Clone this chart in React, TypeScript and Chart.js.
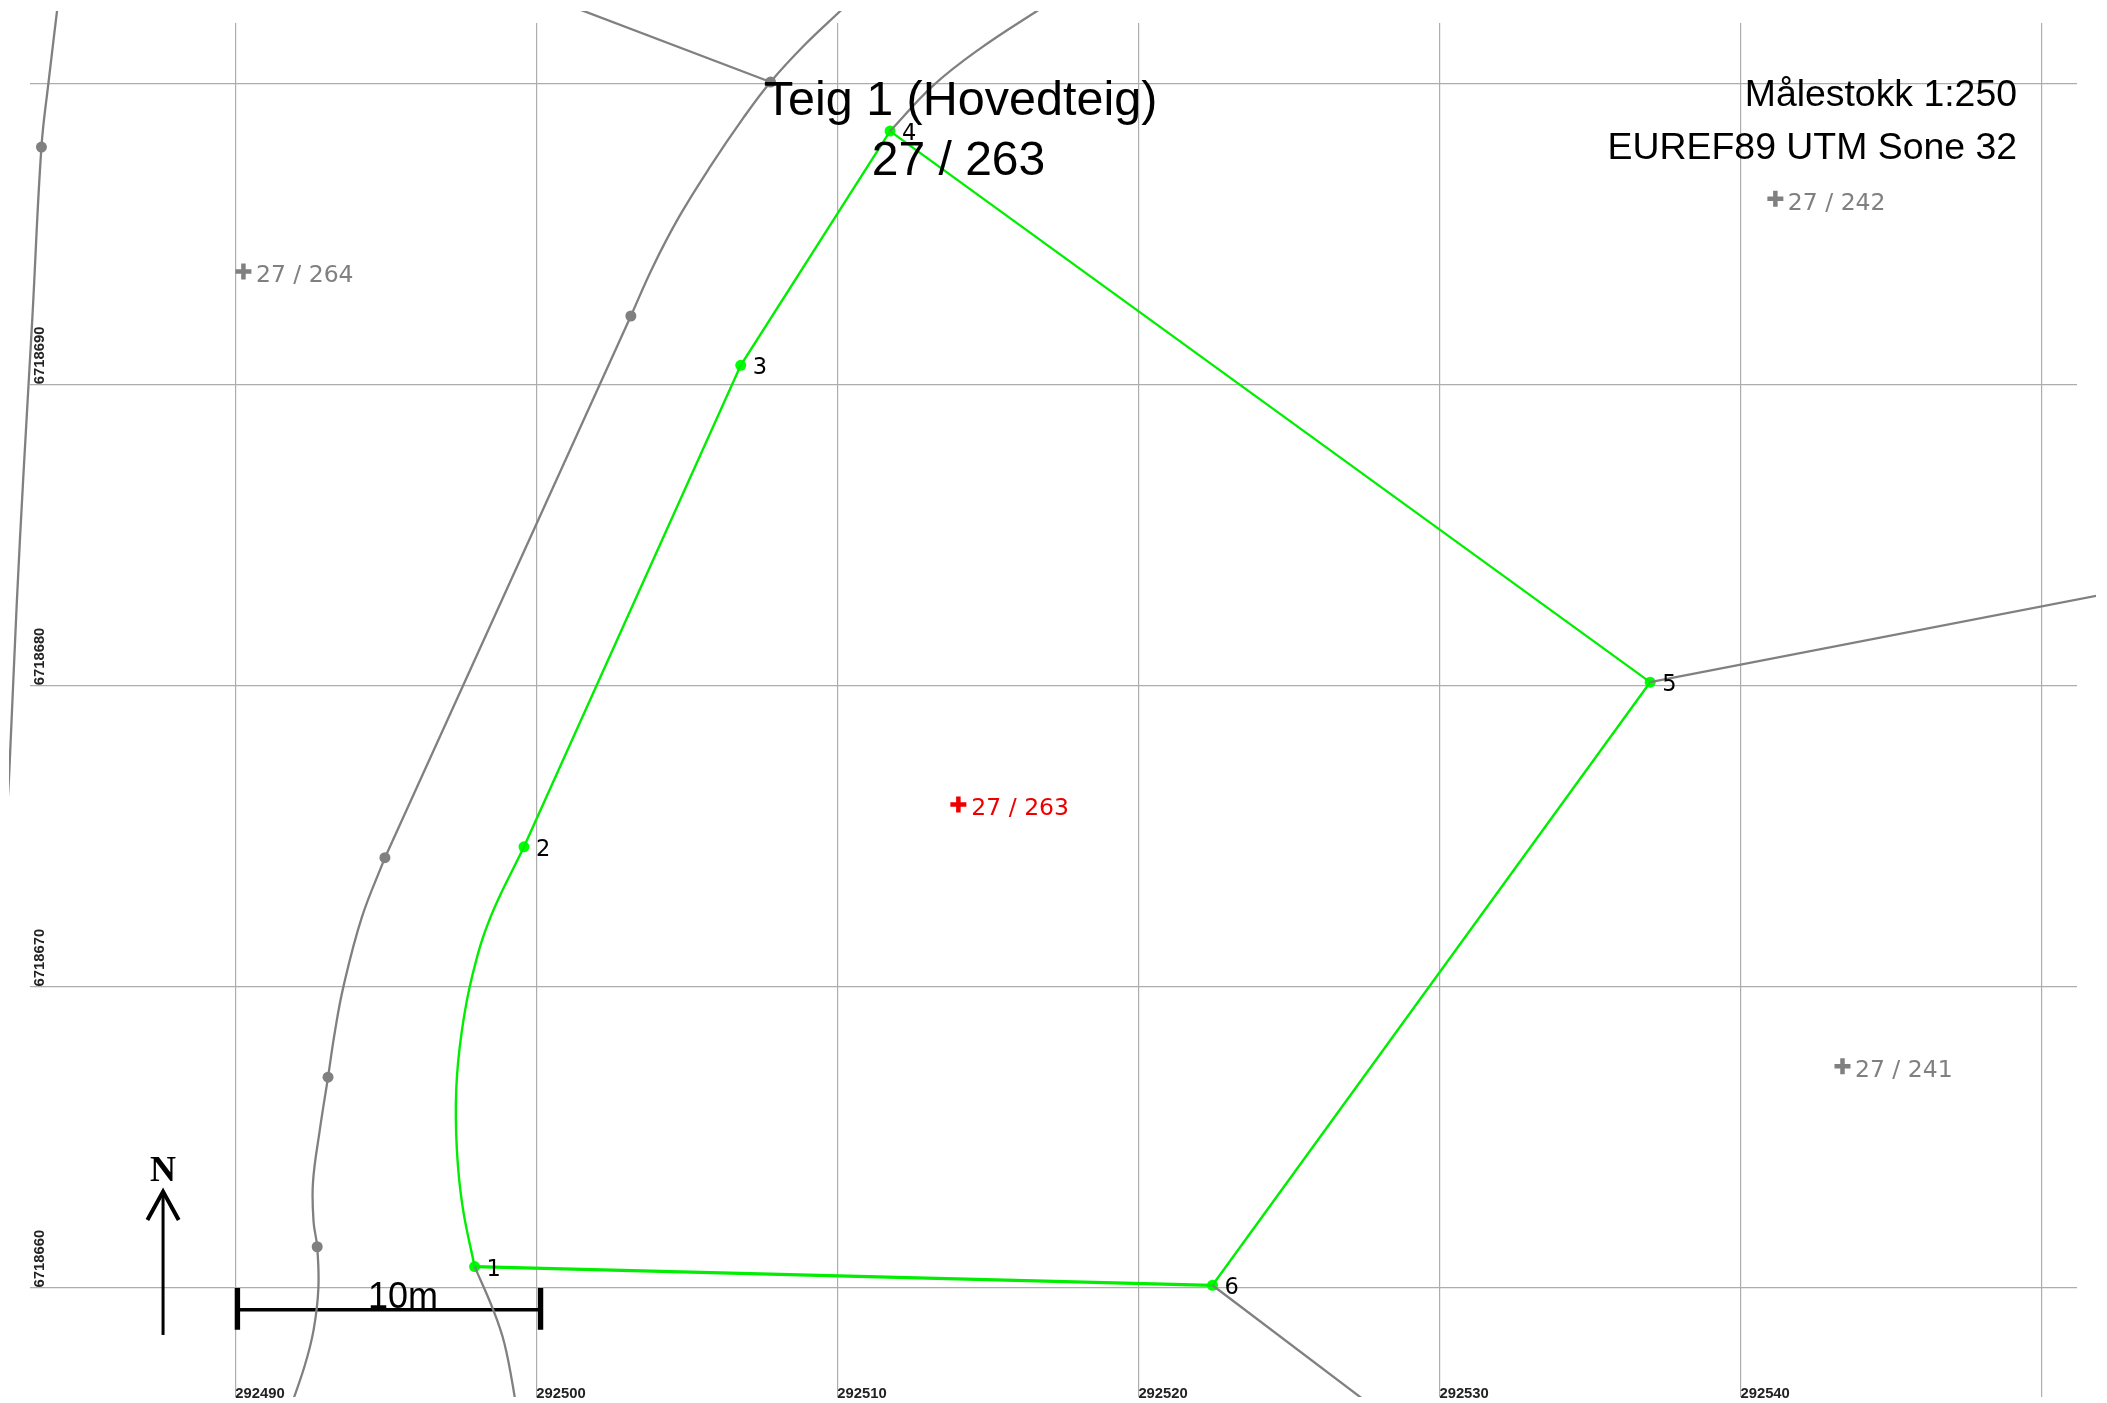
import React, { useEffect, useRef } from "react";
import { Chart, registerables } from "chart.js";

Chart.register(...registerables);

// Map grid (UTM metres)
const eastingGrid = [292490, 292500, 292510, 292520, 292530, 292540, 292550];
const northingGrid = [6718660, 6718670, 6718680, 6718690, 6718700];
const eastingLabels = ["292490", "292500", "292510", "292520", "292530", "292540"];
const northingLabels = ["6718660", "6718670", "6718680", "6718690"];

// Green parcel boundary
const boundaryStraightE = [292499.59, 292506.79, 292511.75, 292537.0, 292522.46];
const boundaryStraightN = [6718674.65, 6718690.64, 6718698.42, 6718680.12, 6718660.09];
const boundaryBottomE = [292522.46, 292497.95];
const boundaryBottomN = [6718660.09, 6718660.71];
const boundaryCurveE = [292497.95, 292497.55, 292497.36, 292497.34, 292497.52, 292497.88, 292498.47, 292499.59];
const boundaryCurveN = [6718660.71, 6718662.7, 6718664.6, 6718666.6, 6718668.5, 6718670.4, 6718672.3, 6718674.65];
const nodeNames = ["1", "2", "3", "4", "5", "6"];
const nodeE = [292497.95, 292499.59, 292506.79, 292511.75, 292537.0, 292522.46];
const nodeN = [6718660.71, 6718674.65, 6718690.64, 6718698.42, 6718680.12, 6718660.09];

// Grey neighbouring boundaries
const farLeftE = [292484.15, 292483.79, 292483.56, 292483.26, 292482.97, 292482.74, 292482.49, 292482.42];
const farLeftN = [6718703.0, 6718700.0, 6718697.89, 6718692.25, 6718687.16, 6718682.73, 6718677.09, 6718675.9];
const arcTopE = [292503.14, 292503.87, 292504.74, 292505.77, 292506.9, 292507.78, 292508.9, 292510.09, 292510.42];
const arcTopN = [6718692.28, 6718693.91, 6718695.57, 6718697.23, 6718698.89, 6718700.05, 6718701.27, 6718702.4, 6718702.71];
const arcStraightE = [292503.14, 292494.97];
const arcStraightN = [6718692.28, 6718674.29];
const arcLowE = [292494.97, 292494.2, 292493.59, 292493.3, 292493.08, 292492.8, 292492.58, 292492.6, 292492.72, 292492.76, 292492.6, 292492.3, 292491.75];
const arcLowN = [6718674.29, 6718672.3, 6718670.0, 6718668.46, 6718667.0, 6718665.2, 6718663.5, 6718662.2, 6718661.37, 6718660.0, 6718658.6, 6718657.4, 6718655.8];
const spurTopE = [292501.12, 292507.78];
const spurTopN = [6718702.58, 6718700.05];
const arcRightE = [292511.75, 292513.19, 292514.74, 292516.62, 292517.06];
const arcRightN = [6718698.42, 6718699.94, 6718701.16, 6718702.4, 6718702.66];
const rightLineE = [292537.0, 292553.6];
const rightLineN = [6718680.12, 6718683.33];
const lowerRightE = [292522.46, 292528.2];
const lowerRightN = [6718660.09, 6718655.75];
const lowerMidE = [292497.95, 292498.57, 292498.94, 292499.28, 292499.38];
const lowerMidN = [6718660.71, 6718659.27, 6718658.16, 6718656.39, 6718655.6];
const greyDotE = [292483.56, 292503.14, 292494.97, 292493.08, 292492.72, 292507.78];
const greyDotN = [6718697.89, 6718692.28, 6718674.29, 6718667.0, 6718661.37, 6718700.05];

// Parcel markers
const parcelNames = ["27 / 264", "27 / 242", "27 / 241"];
const parcelE = [292490.27, 292541.16, 292543.39];
const parcelN = [6718693.76, 6718696.17, 6718667.36];
const mainParcelName = ["27 / 263"];
const mainParcelE = [292514.02];
const mainParcelN = [6718676.06];

// Scale bar and north arrow
const barE = [292490.07, 292500.14];
const barN = [6718659.28, 6718659.28];
const barLeftE = [292490.07, 292490.07];
const barRightE = [292500.14, 292500.14];
const barTickN = [6718660.0, 6718658.61];
const northShaftE = [292487.6, 292487.6];
const northShaftN = [6718658.44, 6718663.2];
const northHeadE = [292487.08, 292487.6, 292488.12];
const northHeadN = [6718662.26, 6718663.2, 6718662.26];

const titleLines = ["Teig 1 (Hovedteig)", "27 / 263"];
const infoLines = ["Målestokk 1:250", "EUREF89 UTM Sone 32"];
const scaleText = "10m";
const northText = "N";

const GREY = "#808080";
const GREEN = "#00ee00";
const DOT_GREEN = "#00ff00";
const CLIP = { left: 21, top: 12, right: 19, bottom: 0 };

const pts = (e: number[], n: number[]) => e.map((x, i) => ({ x, y: n[i] }));

function line(e: number[], n: number[], color: string, width: number, tension = 0) {
  return {
    type: "line" as const,
    data: pts(e, n),
    borderColor: color,
    backgroundColor: color,
    borderWidth: width,
    tension,
    pointRadius: 0,
    fill: false,
    clip: CLIP,
  };
}

function dots(e: number[], n: number[], color: string, radius: number, style = "circle", bw = 0) {
  return {
    type: "scatter" as const,
    data: pts(e, n),
    showLine: false,
    pointStyle: style,
    pointRadius: radius,
    pointBackgroundColor: color,
    pointBorderColor: color,
    pointBorderWidth: bw,
    clip: CLIP,
  };
}

const textPlugin = {
  id: "mapText",
  afterDatasetsDraw(chart: any) {
    const { ctx, scales } = chart;
    const X = (v: number) => scales.x.getPixelForValue(v);
    const Y = (v: number) => scales.y.getPixelForValue(v);
    ctx.save();
    ctx.textBaseline = "alphabetic";

    // tick labels
    ctx.fillStyle = "#222";
    ctx.font = "bold 14.8px 'Liberation Sans'";
    ctx.textAlign = "left";
    eastingLabels.forEach((t) => ctx.fillText(t, X(Number(t)), 1397.5));
    northingLabels.forEach((t) => {
      ctx.save();
      ctx.translate(43.5, Y(Number(t)) - 0.5);
      ctx.rotate(-Math.PI / 2);
      ctx.fillText(t, 0, 0);
      ctx.restore();
    });

    // node labels
    ctx.fillStyle = "#000";
    ctx.font = "22.5px 'DejaVu Sans'";
    nodeNames.forEach((t, i) => ctx.fillText(t, X(nodeE[i]) + 12, Y(nodeN[i]) + 9));

    // parcels
    ctx.font = "23.5px 'DejaVu Sans'";
    ctx.fillStyle = GREY;
    parcelNames.forEach((t, i) => ctx.fillText(t, X(parcelE[i]) + 12.5, Y(parcelN[i]) + 11));
    ctx.fillStyle = "#ee0000";
    mainParcelName.forEach((t, i) => ctx.fillText(t, X(mainParcelE[i]) + 13, Y(mainParcelN[i]) + 11));

    // headings
    ctx.fillStyle = "#000";
    ctx.textAlign = "center";
    ctx.font = "48.5px 'Liberation Sans'";
    ctx.fillText(titleLines[0], 960.5, 115);
    ctx.font = "48px 'Liberation Sans'";
    ctx.fillText(titleLines[1], 958.5, 175);

    ctx.font = "37.4px 'Liberation Sans'";
    ctx.textAlign = "right";
    ctx.fillText(infoLines[0], 2017, 106);
    ctx.fillText(infoLines[1], 2017, 159);

    // scale bar text & north
    ctx.font = "36px 'Liberation Sans'";
    ctx.textAlign = "center";
    ctx.fillText(scaleText, X((barE[0] + barE[1]) / 2) + 14, Y(barN[0]) - 1.7);
    ctx.font = "bold 36px 'Liberation Serif'";
    ctx.fillText(northText, X(northShaftE[0]), Y(northShaftN[1]) - 11);
    ctx.restore();
  },
};

export default function App() {
  const ref = useRef<HTMLCanvasElement | null>(null);
  useEffect(() => {
    document.body.style.margin = "0";
    document.body.style.background = "#fff";
    const chart = new Chart(ref.current as HTMLCanvasElement, {
      data: {
        datasets: [
          line(farLeftE, farLeftN, GREY, 2.3, 0.4),
          line(arcTopE, arcTopN, GREY, 2.3, 0.4),
          line(arcStraightE, arcStraightN, GREY, 2.3),
          line(arcLowE, arcLowN, GREY, 2.3, 0.4),
          line(spurTopE, spurTopN, GREY, 2.3),
          line(arcRightE, arcRightN, GREY, 2.3, 0.4),
          line(rightLineE, rightLineN, GREY, 2.3),
          line(lowerRightE, lowerRightN, GREY, 2.3),
          line(lowerMidE, lowerMidN, GREY, 2.3, 0.4),
          dots(greyDotE, greyDotN, GREY, 5.5),
          line(boundaryCurveE, boundaryCurveN, GREEN, 2.4, 0.4),
          line(boundaryStraightE, boundaryStraightN, GREEN, 2.4),
          line(boundaryBottomE, boundaryBottomN, GREEN, 3.2),
          dots(nodeE, nodeN, DOT_GREEN, 5.5),
          dots(parcelE, parcelN, GREY, 8, "cross", 4.5),
          dots(mainParcelE, mainParcelN, "#ee0000", 8, "cross", 4.5),
          line(barE, barN, "#000", 3.5),
          line(barLeftE, barTickN, "#000", 5.4),
          line(barRightE, barTickN, "#000", 5.4),
          line(northShaftE, northShaftN, "#000", 3),
          line(northHeadE, northHeadN, "#000", 4),
        ] as any,
      },
      plugins: [textPlugin],
      options: {
        animation: false,
        responsive: false,
        devicePixelRatio: 1,
        layout: { autoPadding: false, padding: { left: 30, top: 23, right: 30, bottom: 6 } },
        plugins: { legend: { display: false }, tooltip: { enabled: false }, title: { display: false } },
        scales: {
          x: {
            type: "linear",
            bounds: "data",
            min: 292483.18,
            max: 292551.18,
            afterBuildTicks: (s: any) => {
              s.ticks = eastingGrid.map((value) => ({ value }));
            },
            ticks: { display: false },
            border: { display: false },
            grid: { color: "#adadad", lineWidth: 1.2, drawTicks: false },
          },
          y: {
            type: "linear",
            bounds: "data",
            min: 6718656.38,
            max: 6718702.01,
            afterBuildTicks: (s: any) => {
              s.ticks = northingGrid.map((value) => ({ value }));
            },
            ticks: { display: false },
            border: { display: false },
            grid: { color: "#adadad", lineWidth: 1.2, drawTicks: false },
          },
        },
      } as any,
    });
    return () => chart.destroy();
  }, []);
  return (
    <div style={{ width: 2107, height: 1403, background: "#fff" }}>
      <canvas ref={ref} width={2107} height={1403} style={{ display: "block" }} />
    </div>
  );
}
